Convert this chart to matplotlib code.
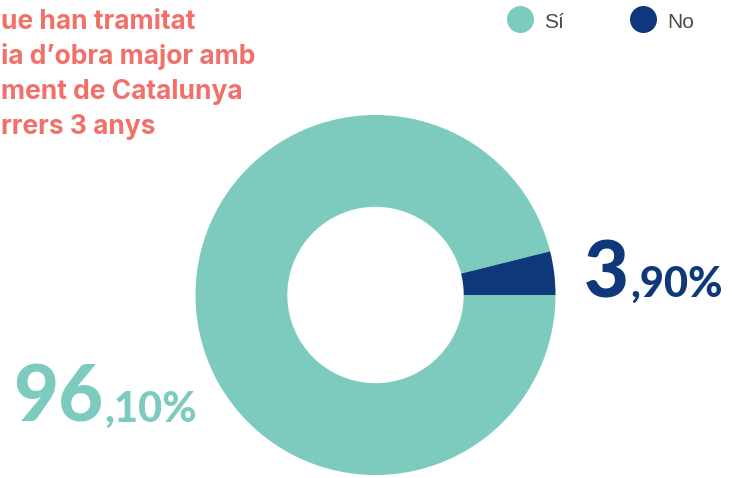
import matplotlib
matplotlib.use("Agg")
import matplotlib.pyplot as plt
from matplotlib.patches import Circle

# data
labels = ["Sí", "No"]
values = [96.1, 3.9]
big_parts = ["96", "3"]
small_parts = [",10%", ",90%"]
# visible part of the title (the source image crops its left side)
title_lines = ["ue han tramitat", "ia d\u2019obra major amb", "ment de Catalunya", "rrers 3 anys"]

teal = "#7DCBBE"
navy = "#0E387A"
coral = "#F2706A"
grey = "#4A4A4A"

W, H = 742, 478
fig = plt.figure(figsize=(W / 100, H / 100), dpi=100)

# overlay axes in pixel coords (y down)
bg = fig.add_axes([0, 0, 1, 1])
bg.set_xlim(0, W)
bg.set_ylim(H, 0)
bg.axis("off")

# donut
cx, cy, R = 375.5, 295, 180
ax = fig.add_axes([(cx - R) / W, (H - cy - R) / H, 2 * R / W, 2 * R / H])
ax.pie(values, colors=[teal, navy], startangle=360 * values[1] / 100,
       radius=1, wedgeprops=dict(width=0.51, linewidth=0))
ax.set_xlim(-1, 1)
ax.set_ylim(-1, 1)
ax.axis("off")

# title
for i, line in enumerate(title_lines):
    bg.text(1, 29 + 35 * i, line, color=coral, fontsize=19, fontweight="bold",
            family="Inter", ha="left", va="baseline")

# legend
for x, lab, col in [(520.5, labels[0], teal), (643.5, labels[1], navy)]:
    bg.add_patch(Circle((x, 19.5), 13.5, color=col, lw=0))
    bg.text(x + 24, 27.5, lab, color=grey, fontsize=15, family="Liberation Sans",
            ha="left", va="baseline")

# value labels: big integer part + smaller decimals
pos = [(13, 422, teal), (584, 297, navy)]
fig.canvas.draw()
r = fig.canvas.get_renderer()
inv = bg.transData.inverted()
for (x, y, col), big, small in zip(pos, big_parts, small_parts):
    t = bg.text(x, y, big, color=col, fontsize=56, fontweight=900,
                family="Lato", ha="left", va="baseline")
    bb = t.get_window_extent(r)
    x1 = inv.transform((bb.x1, bb.y0))[0]
    bg.text(x1 + 1, y, small, color=col, fontsize=30, fontweight=900,
            family="Lato", ha="left", va="baseline")

fig.savefig("out.png", dpi=100)
